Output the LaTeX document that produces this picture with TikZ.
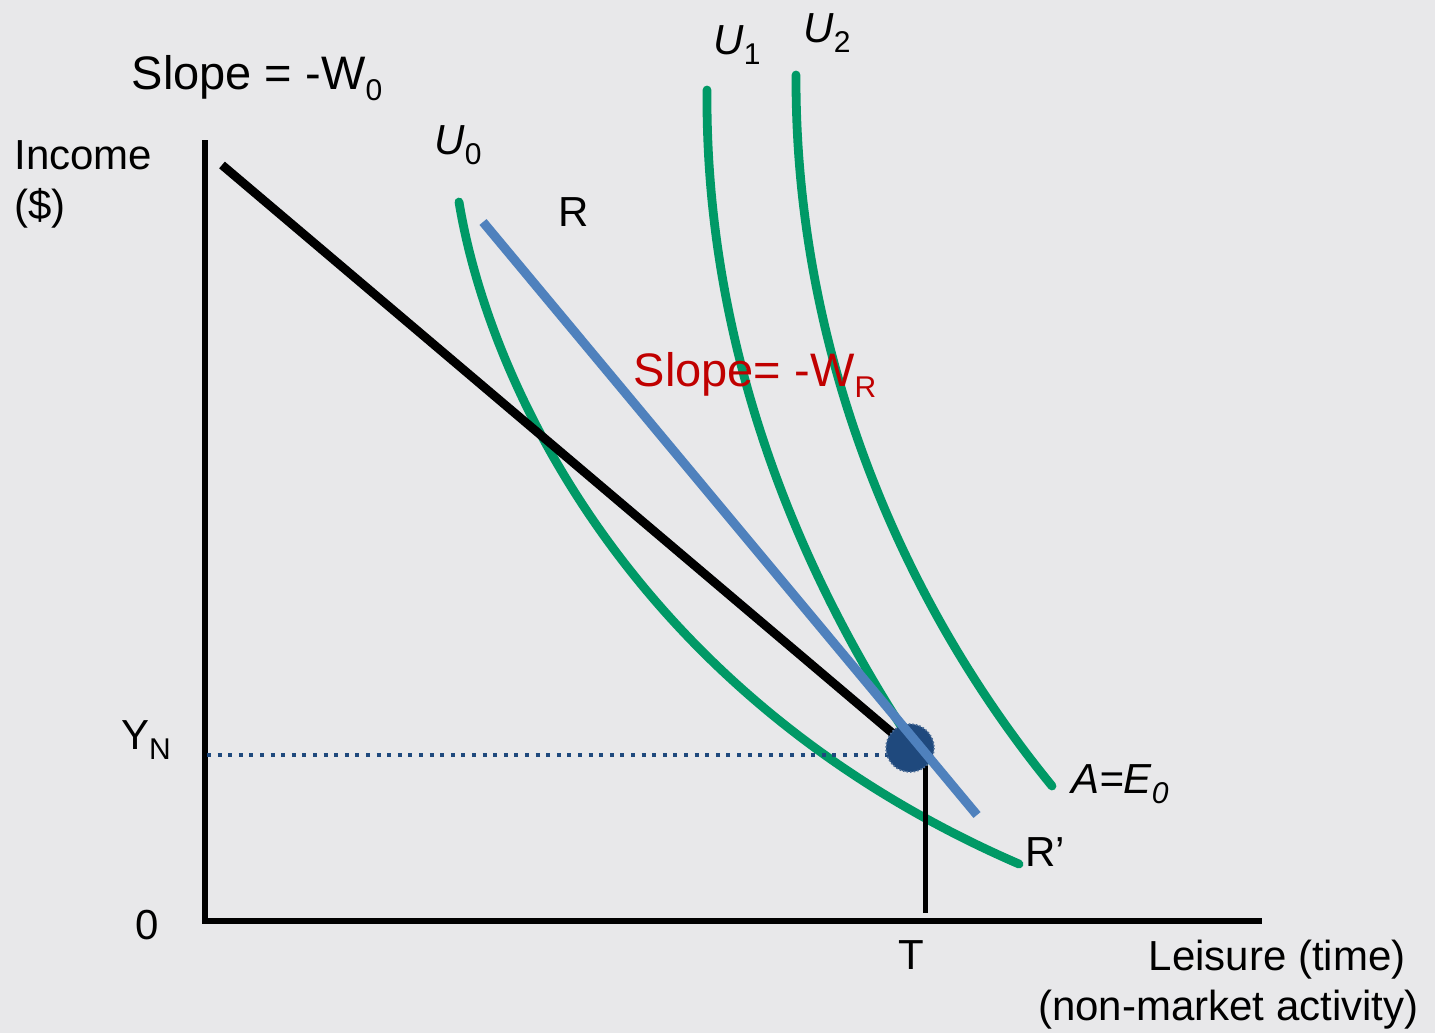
\documentclass[tikz,border=0pt]{standalone}
\usepackage{fontspec}
\setmainfont{Liberation Sans}
\usetikzlibrary{positioning}
\definecolor{Paper}{HTML}{E8E8EA}
\definecolor{Curve}{HTML}{009966}
\definecolor{Budget}{HTML}{4F81BD}
\definecolor{Navy}{HTML}{1F497D}
\definecolor{Slope}{HTML}{C00000}
\newcommand{\lowsub}[1]{\raisebox{-0.45ex}{\fontsize{15}{15}\selectfont #1}}

\begin{document}
\begin{tikzpicture}[x=0.5pt,y=-0.5pt,
    lbl/.style={font=\fontsize{21}{25}\selectfont,inner sep=0pt},
    big/.style={font=\fontsize{23.5}{27}\selectfont,inner sep=0pt},
    icurve/.style={Curve,line width=4.4pt,line cap=round}]
        \fill[Paper] (0,0) rectangle (1435,1033);
        \useasboundingbox (0,0) rectangle (1435,1033);

        % axes
        \coordinate (origin) at (205,921);
        \coordinate (ytop) at (205,140);
        \coordinate (xend) at (1262,921);
        \draw[line width=3pt] (ytop)--(origin)--(xend);

        % indifference curves
        \draw[icurve] (459,202) .. controls (490,390) and (640,700) .. (1019,864);
        \draw[icurve] (707,90) .. controls (705,350) and (800,580) .. (925,762);
        \draw[icurve] (796,75) .. controls (795,350) and (900,600) .. (1052,786);

        % endowment point
        \coordinate (E) at (910,748);
        \coordinate (yn0) at (207,755);
        \coordinate (yn1) at (890,755);
        \draw[Navy,line width=2pt,dash pattern=on 2pt off 3.3pt] (yn0)--(yn1);
        \draw[line width=4.4pt] (222,165)--(E);
        \draw[line width=2.5pt] (925,760)--(925,913);
        \fill[Navy] (E) circle (24);
        \draw[Navy!80,line width=0.8pt,densely dotted] (E) circle (24);

        % reservation wage line
        \draw[Budget,line width=4.6pt] (483,222)--(977,815);

        \node[lbl,anchor=north west,align=left] (income) at (14,140) {Income\\(\$)};
        \node[lbl] (zero) at (147,925) {0};
        \node[lbl] (yn) at (146,740) {Y\lowsub{N}};
        \node[lbl] (tlab) at (911,955) {T};
        \node[lbl,anchor=east] (leisure) at (1406,960) {Leisure (time)};
        \node[lbl,anchor=east] (nonmarket) at (1419,1010) {(non-market activity)};
        \node[big] (sw0) at (257,78) {Slope = -W\lowsub{0}};
        \node[lbl] (u0) at (458,145) {\textit{U}\lowsub{0}};
        \node[lbl] (rlab) at (574,212) {R};
        \node[lbl] (u1) at (737,45) {\textit{U}\lowsub{1}};
        \node[lbl] (u2) at (827,33) {\textit{U}\lowsub{2}};
        \node[big,text=Slope] (swr) at (755,375) {Slope= -W\lowsub{R}};
        \node[lbl] (aeq) at (1120,784) {\textit{A=E\lowsub{0}}};
        \node[lbl] (rprime) at (1045,852) {R’};
      \end{tikzpicture}
\end{document}
